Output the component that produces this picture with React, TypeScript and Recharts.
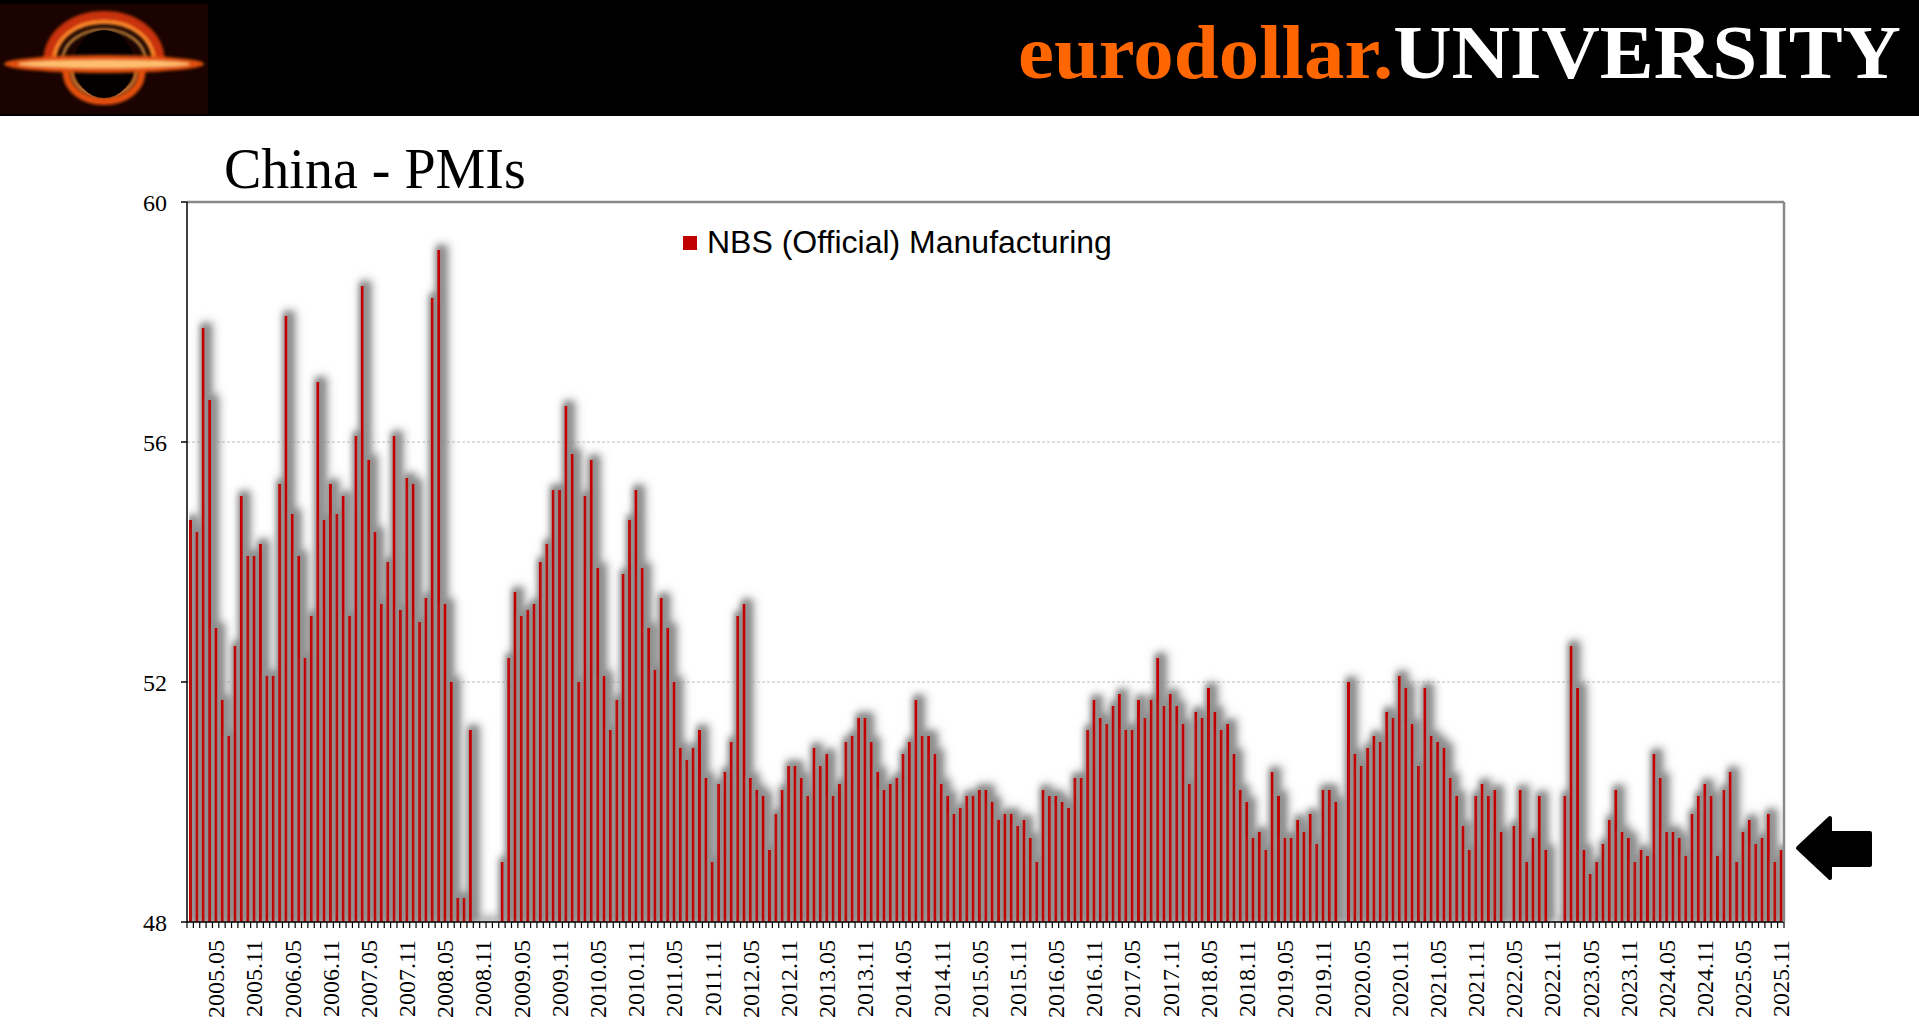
import React from "react";
import { BarChart, Bar, XAxis, YAxis, CartesianGrid, Legend } from "recharts";

// NBS (Official) Manufacturing PMI, monthly
const PMI_2005 = [54.7, 54.5, 57.9, 56.7, 52.9, 51.7, 51.1, 52.6, 55.1, 54.1, 54.1, 54.3];
const PMI_2006 = [52.1, 52.1, 55.3, 58.1, 54.8, 54.1, 52.4, 53.1, 57.0, 54.7, 55.3, 54.8];
const PMI_2007 = [55.1, 53.1, 56.1, 58.6, 55.7, 54.5, 53.3, 54.0, 56.1, 53.2, 55.4, 55.3];
const PMI_2008 = [53.0, 53.4, 58.4, 59.2, 53.3, 52.0, 48.4, 48.4, 51.2, 44.6, 38.8, 41.2];
const PMI_2009 = [45.3, 49.0, 52.4, 53.5, 53.1, 53.2, 53.3, 54.0, 54.3, 55.2, 55.2, 56.6];
const PMI_2010 = [55.8, 52.0, 55.1, 55.7, 53.9, 52.1, 51.2, 51.7, 53.8, 54.7, 55.2, 53.9];
const PMI_2011 = [52.9, 52.2, 53.4, 52.9, 52.0, 50.9, 50.7, 50.9, 51.2, 50.4, 49.0, 50.3];
const PMI_2012 = [50.5, 51.0, 53.1, 53.3, 50.4, 50.2, 50.1, 49.2, 49.8, 50.2, 50.6, 50.6];
const PMI_2013 = [50.4, 50.1, 50.9, 50.6, 50.8, 50.1, 50.3, 51.0, 51.1, 51.4, 51.4, 51.0];
const PMI_2014 = [50.5, 50.2, 50.3, 50.4, 50.8, 51.0, 51.7, 51.1, 51.1, 50.8, 50.3, 50.1];
const PMI_2015 = [49.8, 49.9, 50.1, 50.1, 50.2, 50.2, 50.0, 49.7, 49.8, 49.8, 49.6, 49.7];
const PMI_2016 = [49.4, 49.0, 50.2, 50.1, 50.1, 50.0, 49.9, 50.4, 50.4, 51.2, 51.7, 51.4];
const PMI_2017 = [51.3, 51.6, 51.8, 51.2, 51.2, 51.7, 51.4, 51.7, 52.4, 51.6, 51.8, 51.6];
const PMI_2018 = [51.3, 50.3, 51.5, 51.4, 51.9, 51.5, 51.2, 51.3, 50.8, 50.2, 50.0, 49.4];
const PMI_2019 = [49.5, 49.2, 50.5, 50.1, 49.4, 49.4, 49.7, 49.5, 49.8, 49.3, 50.2, 50.2];
const PMI_2020 = [50.0, 35.7, 52.0, 50.8, 50.6, 50.9, 51.1, 51.0, 51.5, 51.4, 52.1, 51.9];
const PMI_2021 = [51.3, 50.6, 51.9, 51.1, 51.0, 50.9, 50.4, 50.1, 49.6, 49.2, 50.1, 50.3];
const PMI_2022 = [50.1, 50.2, 49.5, 47.4, 49.6, 50.2, 49.0, 49.4, 50.1, 49.2, 48.0, 47.0];
const PMI_2023 = [50.1, 52.6, 51.9, 49.2, 48.8, 49.0, 49.3, 49.7, 50.2, 49.5, 49.4, 49.0];
const PMI_2024 = [49.2, 49.1, 50.8, 50.4, 49.5, 49.5, 49.4, 49.1, 49.8, 50.1, 50.3, 50.1];
const PMI_2025 = [49.1, 50.2, 50.5, 49.0, 49.5, 49.7, 49.3, 49.4, 49.8, 49.0, 49.2];

const PMI = [
  ...PMI_2005, ...PMI_2006, ...PMI_2007, ...PMI_2008, ...PMI_2009, ...PMI_2010,
  ...PMI_2011, ...PMI_2012, ...PMI_2013, ...PMI_2014, ...PMI_2015, ...PMI_2016,
  ...PMI_2017, ...PMI_2018, ...PMI_2019, ...PMI_2020, ...PMI_2021, ...PMI_2022,
  ...PMI_2023, ...PMI_2024, ...PMI_2025,
];

// month categories, 2005.01 .. 2025.11
const MONTHS: string[] = [];
for (let y = 2005; y <= 2025; y++) {
  for (let m = 1; m <= 12; m++) {
    if (MONTHS.length < PMI.length) MONTHS.push(`${y}.${String(m).padStart(2, "0")}`);
  }
}

const TICK_LABELS = [
  "2005.05", "2005.11", "2006.05", "2006.11", "2007.05", "2007.11", "2008.05",
  "2008.11", "2009.05", "2009.11", "2010.05", "2010.11", "2011.05", "2011.11",
  "2012.05", "2012.11", "2013.05", "2013.11", "2014.05", "2014.11", "2015.05",
  "2015.11", "2016.05", "2016.11", "2017.05", "2017.11", "2018.05", "2018.11",
  "2019.05", "2019.11", "2020.05", "2020.11", "2021.05", "2021.11", "2022.05",
  "2022.11", "2023.05", "2023.11", "2024.05", "2024.11", "2025.05", "2025.11",
];
const Y_TICKS = [48, 52, 56, 60];

const rows = MONTHS.map((month, i) => ({ month, pmi: PMI[i] }));
const labelSet = new Set(TICK_LABELS);

const SERIF = '"Liberation Serif", "Times New Roman", serif';
const SANS = '"Liberation Sans", Arial, sans-serif';
const BAR_RED = "#c00000";
const FRAME_GRAY = "#898989";

// every month gets a tick mark on its band edge, every sixth one a rotated label
function MonthTick({ x, y, payload, index }: any) {
  const half = payload && payload.offset ? payload.offset : 0;
  const last = index === MONTHS.length - 1;
  return (
    <g>
      <line x1={x - half} x2={x - half} y1={y} y2={y + 6} stroke="#000" strokeWidth={1.2} />
      {last && <line x1={x + half} x2={x + half} y1={y} y2={y + 6} stroke="#000" strokeWidth={1.2} />}
      {labelSet.has(payload.value) && (
        <text
          transform={`translate(${x},${y}) rotate(-90)`}
          x={-18}
          y={0}
          dy="0.36em"
          textAnchor="end"
          fontFamily={SERIF}
          fontSize={24}
          fill="#000"
        >
          {payload.value}
        </text>
      )}
    </g>
  );
}

function LegendBox({ payload }: any) {
  return (
    <div style={{ display: "flex", alignItems: "center", whiteSpace: "nowrap" }}>
      {(payload || []).map((p: any) => (
        <span key={p.value} style={{ display: "inline-flex", alignItems: "center" }}>
          <span style={{ width: 14, height: 14, background: p.color, marginRight: 10 }} />
          <span style={{ fontFamily: SANS, fontSize: 32, color: "#000" }}>{p.value}</span>
        </span>
      ))}
    </div>
  );
}

function Header() {
  return (
    <svg width={1919} height={116} style={{ position: "absolute", left: 0, top: 0 }}>
      <rect x={0} y={0} width={1919} height={116} fill="#000" />
      <defs>
        <filter id="logoGlow" x="-20%" y="-40%" width="140%" height="180%">
          <feGaussianBlur stdDeviation="1.6" />
        </filter>
      </defs>
      <rect x={0} y={4} width={208} height={110} fill="#1a0300" />
      <g filter="url(#logoGlow)" fill="none" strokeLinecap="round">
        <path d="M48,64 C48,0 160,0 160,64" stroke="#c8320a" strokeWidth={10} />
        <path d="M54,64 C54,8 154,8 154,64" stroke="#ff8a2a" strokeWidth={4} />
        <path d="M62,64 C62,18 146,18 146,64" stroke="#ffb050" strokeWidth={2} />
        <path d="M66,70 C66,112 142,112 142,70" stroke="#e5500f" strokeWidth={7} />
        <path d="M72,70 C72,104 136,104 136,70" stroke="#ff9a3a" strokeWidth={2.5} />
      </g>
      <ellipse cx={104} cy={64} rx={30} ry={34} fill="#050000" />
      <g filter="url(#logoGlow)">
        <ellipse cx={104} cy={64} rx={100} ry={9} fill="#e0500f" />
        <ellipse cx={104} cy={64} rx={86} ry={4} fill="#ffc070" />
      </g>
      <text x={1901} y={78} textAnchor="end" fontFamily={SERIF} fontWeight="bold" fontSize={77}
        textLength={883} lengthAdjust="spacingAndGlyphs">
        <tspan fill="#ff6600">eurodollar.</tspan>
        <tspan fill="#ffffff">UNIVERSITY</tspan>
      </text>
    </svg>
  );
}

export default function App() {
  return (
    <div style={{ position: "absolute", left: 0, top: 0, width: 1919, height: 1026, background: "#fff", overflow: "hidden" }}>
      <style>{`.pmi-bar { filter: url(#barShadow); }`}</style>
      <svg width={1} height={1} style={{ position: "absolute", left: 0, top: 0 }}>
        <defs>
          <filter id="barShadow" filterUnits="userSpaceOnUse" x={187} y={190} width={1597} height={732}>
            <feMorphology in="SourceAlpha" operator="dilate" radius="2 3" result="wide" />
            <feGaussianBlur in="wide" stdDeviation="3.2" result="blur" />
            <feOffset in="blur" dx="2" dy="0" result="moved" />
            <feFlood floodColor="#8f8f8f" floodOpacity="1" />
            <feComposite in2="moved" operator="in" result="shadow" />
            <feMerge>
              <feMergeNode in="shadow" />
              <feMergeNode in="SourceGraphic" />
            </feMerge>
          </filter>
        </defs>
      </svg>

      <Header />

      <svg width={700} height={90} style={{ position: "absolute", left: 0, top: 116 }}>
        <text x={224} y={72} fontFamily={SERIF} fontSize={56} fill="#000">China - PMIs</text>
      </svg>

      <div style={{ position: "absolute", left: 0, top: 0 }}>
        <BarChart
          width={1919}
          height={1026}
          data={rows}
          margin={{ top: 201, right: 134, bottom: 0, left: 0 }}
          barSize={3}
        >
          <CartesianGrid vertical={false} stroke="#bdbdbd" strokeDasharray="3 2" />
          <XAxis
            dataKey="month"
            height={104}
            interval={0}
            tick={<MonthTick />}
            tickLine={false}
            tickSize={0}
            tickMargin={0}
            axisLine={{ stroke: "#000", strokeWidth: 1.5 }}
          />
          <XAxis
            xAxisId="top"
            orientation="top"
            type="number"
            domain={[0, 1]}
            height={1}
            tick={false}
            tickLine={false}
            axisLine={{ stroke: FRAME_GRAY, strokeWidth: 2.5 }}
          />
          <YAxis
            domain={[48, 60]}
            ticks={Y_TICKS}
            allowDataOverflow
            width={187}
            tickSize={6}
            tickMargin={14}
            tick={{ fontFamily: SERIF, fontSize: 24, fill: "#000" }}
            axisLine={{ stroke: "#000", strokeWidth: 1.5 }}
            tickLine={{ stroke: "#000", strokeWidth: 1.5 }}
          />
          <YAxis
            yAxisId="right"
            orientation="right"
            domain={[48, 60]}
            width={1}
            tick={false}
            tickLine={false}
            axisLine={{ stroke: FRAME_GRAY, strokeWidth: 2.5 }}
          />
          <Legend
            verticalAlign="middle"
            align="center"
            layout="horizontal"
            wrapperStyle={{ position: "absolute", top: 224, left: 683, width: "auto", height: "auto" }}
            content={<LegendBox />}
          />
          <Bar
            dataKey="pmi"
            className="pmi-bar"
            name="NBS (Official) Manufacturing"
            fill={BAR_RED}
            isAnimationActive={false}
          />
        </BarChart>
      </div>

      <svg width={1919} height={1026} style={{ position: "absolute", left: 0, top: 0, pointerEvents: "none" }}>
        <path
          d="M1798,848 L1830,818 L1830,833 L1870,833 L1870,865 L1830,865 L1830,878 Z"
          fill="#000"
          stroke="#000"
          strokeWidth={4}
          strokeLinejoin="round"
        />
      </svg>
    </div>
  );
}
